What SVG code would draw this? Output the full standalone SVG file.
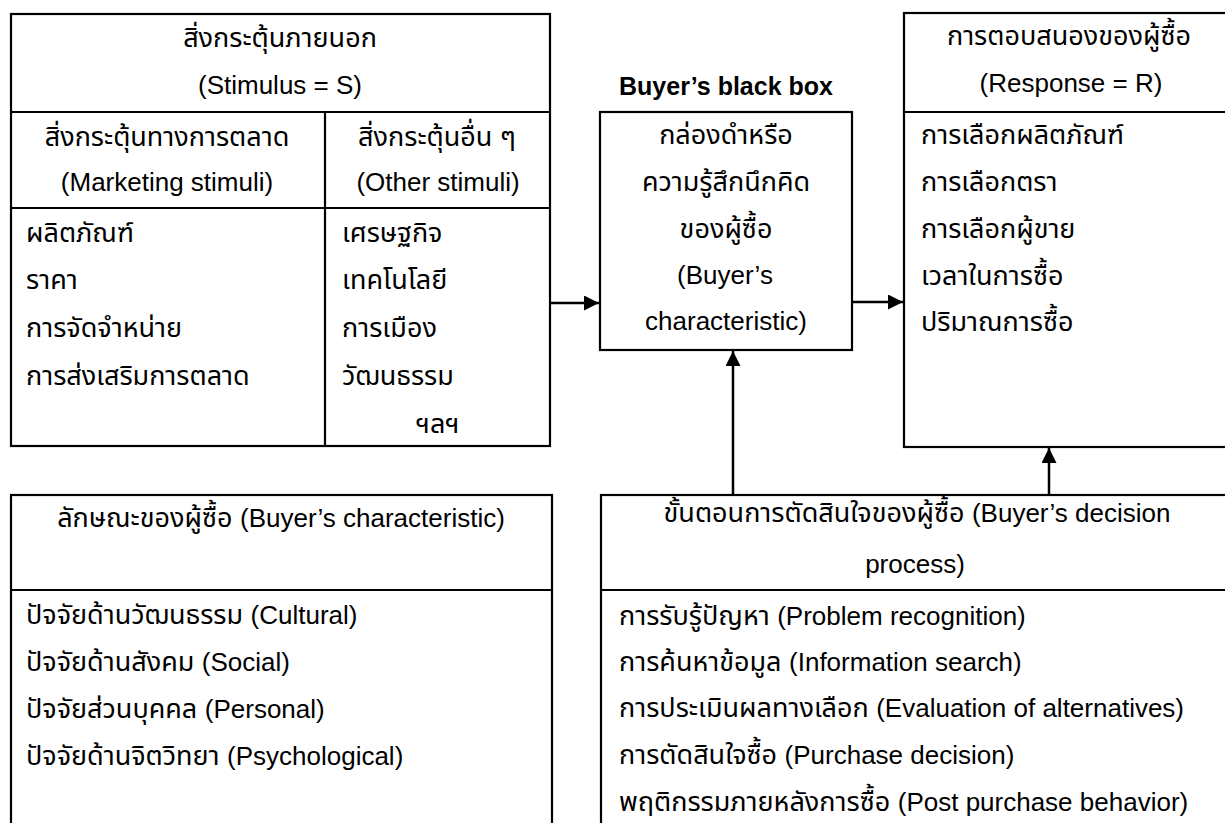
<svg xmlns="http://www.w3.org/2000/svg" width="1225" height="823" viewBox="0 0 1225 823">
<defs>
<style>
.box{fill:#fff;stroke:#000;stroke-width:2.2}
.ln{stroke:#000;stroke-width:2.2;fill:none}
.t{font-family:"Liberation Sans","Noto Sans Thai","Noto Sans",Arial,sans-serif;font-size:27px;fill:#000}
.en{font-size:26px}
.c{text-anchor:middle}
.b{font-weight:bold;font-size:25px}
.con{stroke:#000;stroke-width:2.5;fill:none}
</style>
<marker id="ah" viewBox="0 0 10 10" refX="10" refY="5" markerWidth="6" markerHeight="6" markerUnits="strokeWidth" orient="auto">
<path d="M0,0 L10,5 L0,10 z" fill="#000"/>
</marker>
</defs>
<rect width="1225" height="823" fill="#fff"/>

<g id="stimulus">
<rect class="box" x="11" y="14" width="539" height="432"/>
<line class="ln" x1="11" y1="112" x2="550" y2="112"/>
<line class="ln" x1="11" y1="208" x2="550" y2="208"/>
<line class="ln" x1="325" y1="112" x2="325" y2="446"/>
<text class="t c" x="280" y="47">สิ่งกระตุ้นภายนอก</text>
<text class="t en c" x="280" y="94">(Stimulus = S)</text>
<text class="t c" x="167" y="146">สิ่งกระตุ้นทางการตลาด</text>
<text class="t en c" x="167" y="191">(Marketing stimuli)</text>
<text class="t c" x="437" y="146">สิ่งกระตุ้นอื่น ๆ</text>
<text class="t en c" x="438" y="191">(Other stimuli)</text>
<text class="t" x="26" y="242">ผลิตภัณฑ์</text>
<text class="t" x="26" y="289">ราคา</text>
<text class="t" x="26" y="337">การจัดจำหน่าย</text>
<text class="t" x="26" y="385">การส่งเสริมการตลาด</text>
<text class="t" x="342" y="242">เศรษฐกิจ</text>
<text class="t" x="342" y="289">เทคโนโลยี</text>
<text class="t" x="342" y="337">การเมือง</text>
<text class="t" x="342" y="385">วัฒนธรรม</text>
<text class="t" x="416" y="433">ฯลฯ</text>
</g>

<g id="blackbox">
<text class="t b c" x="726" y="95">Buyer’s black box</text>
<rect class="box" x="600" y="112" width="252" height="238"/>
<text class="t c" x="726" y="144">กล่องดำหรือ</text>
<text class="t c" x="726" y="191">ความรู้สึกนึกคิด</text>
<text class="t c" x="726" y="238">ของผู้ซื้อ</text>
<text class="t en c" x="725" y="284">(Buyer’s</text>
<text class="t en c" x="726" y="330">characteristic)</text>
</g>

<g id="response">
<rect class="box" x="904" y="13" width="330" height="434"/>
<line class="ln" x1="904" y1="112" x2="1226" y2="112"/>
<text class="t c" x="1069" y="45">การตอบสนองของผู้ซื้อ</text>
<text class="t en c" x="1071" y="92">(Response = R)</text>
<text class="t" x="921" y="144">การเลือกผลิตภัณฑ์</text>
<text class="t" x="921" y="191">การเลือกตรา</text>
<text class="t" x="921" y="238">การเลือกผู้ขาย</text>
<text class="t" x="921" y="285">เวลาในการซื้อ</text>
<text class="t" x="921" y="331">ปริมาณการซื้อ</text>
</g>

<g id="characteristic">
<rect class="box" x="11" y="495" width="541" height="340"/>
<line class="ln" x1="11" y1="590" x2="552" y2="590"/>
<text class="t c" x="281" y="527">ลักษณะของผู้ซื้อ <tspan class="en">(Buyer’s characteristic)</tspan></text>
<text class="t" x="26" y="624">ปัจจัยด้านวัฒนธรรม <tspan class="en">(Cultural)</tspan></text>
<text class="t" x="26" y="671">ปัจจัยด้านสังคม <tspan class="en">(Social)</tspan></text>
<text class="t" x="26" y="718">ปัจจัยส่วนบุคคล <tspan class="en">(Personal)</tspan></text>
<text class="t" x="26" y="765">ปัจจัยด้านจิตวิทยา <tspan class="en">(Psychological)</tspan></text>
</g>

<g id="decision">
<rect class="box" x="601" y="495" width="640" height="340"/>
<line class="ln" x1="601" y1="590" x2="1226" y2="590"/>
<text class="t c" x="917" y="522">ขั้นตอนการตัดสินใจของผู้ซื้อ <tspan class="en">(Buyer’s decision</tspan></text>
<text class="t en c" x="915" y="573">process)</text>
<text class="t" x="619" y="625">การรับรู้ปัญหา <tspan class="en">(Problem recognition)</tspan></text>
<text class="t" x="619" y="671">การค้นหาข้อมูล <tspan class="en">(Information search)</tspan></text>
<text class="t" x="619" y="717">การประเมินผลทางเลือก <tspan class="en">(Evaluation of alternatives)</tspan></text>
<text class="t" x="619" y="764">การตัดสินใจซื้อ <tspan class="en">(Purchase decision)</tspan></text>
<text class="t" x="619" y="811">พฤติกรรมภายหลังการซื้อ <tspan class="en">(Post purchase behavior)</tspan></text>
</g>

<g id="connectors">
<line class="con" x1="551" y1="303" x2="599" y2="303" marker-end="url(#ah)"/>
<line class="con" x1="853" y1="302" x2="903" y2="302" marker-end="url(#ah)"/>
<line class="con" x1="733" y1="495" x2="733" y2="351" marker-end="url(#ah)"/>
<line class="con" x1="1049" y1="495" x2="1049" y2="448" marker-end="url(#ah)"/>
</g>
</svg>
